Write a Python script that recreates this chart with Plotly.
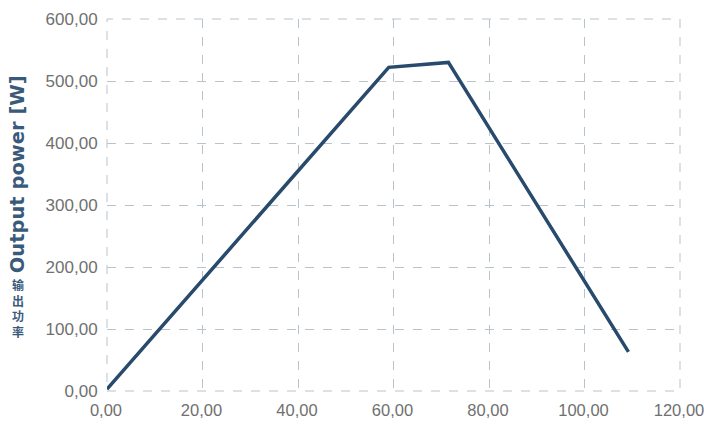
import plotly.graph_objects as go

speed = [0, 59, 71.5, 109.2]
power = [3, 522, 530, 63]
x_ticks = [0, 20, 40, 60, 80, 100, 120]
y_ticks = [0, 100, 200, 300, 400, 500, 600]
title_en = "Output power [W]"
title_cn = ["输", "出", "功", "率"]

W, H = 704, 427
L, R, T, B = 107, 24, 19, 35.5
pw, ph = W - L - R, H - T - B

grid = "#b9c3cb"
font_fam = "Arial, Liberation Sans, sans-serif"
title_color = "#3a5a7c"

fig = go.Figure(go.Scatter(x=speed, y=power, mode="lines",
                           line=dict(color="#284a6c", width=3.5)))

fig.update_layout(
    width=W, height=H, separators=",.",
    margin=dict(l=L, r=R, t=T, b=B, autoexpand=False),
    plot_bgcolor="white", paper_bgcolor="white", showlegend=False,
)
axis_common = dict(tickformat=".2f", showgrid=True, gridcolor=grid, griddash="dash",
                   gridwidth=1, zeroline=False, showline=False, ticks="outside",
                   tickcolor="white", automargin=False, ticklabeloverflow="allow")
fig.update_xaxes(range=[0, 120], tickvals=x_ticks, ticklen=4, ticklabelshift=-1,
                 tickfont=dict(family=font_fam, size=16.5, color="#707070"), **axis_common)
fig.update_yaxes(range=[0, 600], tickvals=y_ticks, ticklen=5,
                 tickfont=dict(family=font_fam, size=17, color="#707070"), **axis_common)

# dashed frame (grid lines at the range edges)
fig.add_shape(type="rect", xref="paper", yref="paper", x0=0, y0=0, x1=1, y1=1,
              line=dict(color=grid, width=1, dash="dash"), layer="below")

def px_x(p):
    return (p - L) / pw

def px_y(p):
    return (H - B - p) / ph

fig.add_annotation(text=title_en, xref="paper", yref="paper",
                   x=px_x(17), y=px_y(174.5), xanchor="center", yanchor="middle",
                   textangle=-90, showarrow=False,
                   font=dict(family="DejaVu Sans", size=19.5,
                             color=title_color, weight="bold"))
fig.add_annotation(text="<br>".join(title_cn), xref="paper", yref="paper",
                   x=px_x(18), y=px_y(308), xanchor="center", yanchor="middle",
                   showarrow=False, borderpad=0,
                   font=dict(family="Noto Sans CJK SC", size=12,
                             color=title_color, weight="bold"))

fig.write_html("out.html", config={"displayModeBar": False},
               post_script="document.body.style.margin='0';")
